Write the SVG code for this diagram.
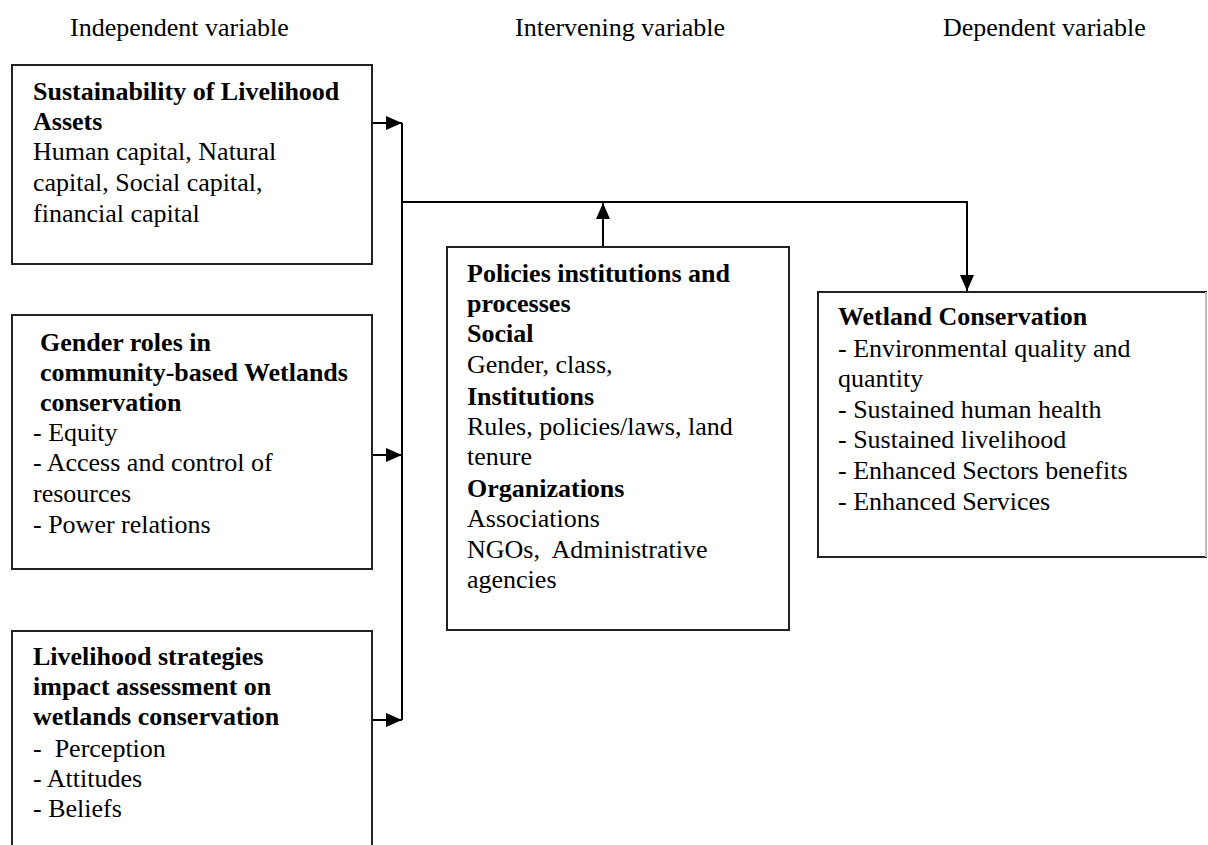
<svg xmlns="http://www.w3.org/2000/svg" width="1208" height="845" viewBox="0 0 1208 845">
<defs>
<style>
text{font-family:"Liberation Serif","Times New Roman",serif;font-size:26px;fill:#000}
.b{font-weight:bold}
.box{fill:#fff;stroke:#222;stroke-width:2}
.ln{fill:none;stroke:#000;stroke-width:2}
</style>
<marker id="ah" markerUnits="userSpaceOnUse" markerWidth="16" markerHeight="14" refX="16" refY="7" orient="auto">
<path d="M0,0 L16,7 L0,14 Z" fill="#000"/>
</marker>
</defs>
<rect width="1208" height="845" fill="#fff"/>
<g id="headers">
<text x="70" y="36">Independent variable</text>
<text x="515" y="36">Intervening variable</text>
<text x="943" y="36">Dependent variable</text>
</g>
<g id="connectors">
<line class="ln" x1="372" y1="123" x2="402" y2="123" marker-end="url(#ah)"/>
<line class="ln" x1="372" y1="455" x2="402" y2="455" marker-end="url(#ah)"/>
<line class="ln" x1="372" y1="720" x2="402" y2="720" marker-end="url(#ah)"/>
<line class="ln" x1="402" y1="123" x2="402" y2="720"/>
<polyline class="ln" points="402,202 967,202 967,291" marker-end="url(#ah)"/>
<line class="ln" x1="603" y1="247" x2="603" y2="203" marker-end="url(#ah)"/>
</g>
<g id="node-assets">
<rect class="box" x="12" y="65" width="360" height="199"/>
<text x="33" y="100" class="b">Sustainability of Livelihood</text>
<text x="33" y="130" class="b">Assets</text>
<text x="33" y="160">Human capital, Natural</text>
<text x="33" y="191">capital, Social capital,</text>
<text x="33" y="222">financial capital</text>
</g>
<g id="node-gender">
<rect class="box" x="12" y="315" width="360" height="254"/>
<text x="40" y="351" class="b">Gender roles in</text>
<text x="40" y="381" class="b">community-based Wetlands</text>
<text x="40" y="411" class="b">conservation</text>
<text x="33" y="441">- Equity</text>
<text x="33" y="471">- Access and control of</text>
<text x="33" y="502">resources</text>
<text x="33" y="533">- Power relations</text>
</g>
<g id="node-strategies">
<rect class="box" x="12" y="631" width="360" height="240"/>
<text x="33" y="665" class="b">Livelihood strategies</text>
<text x="33" y="695" class="b">impact assessment on</text>
<text x="33" y="725" class="b">wetlands conservation</text>
<text x="33" y="757">-&#160; Perception</text>
<text x="33" y="787">- Attitudes</text>
<text x="33" y="817">- Beliefs</text>
</g>
<g id="node-policies">
<rect class="box" x="447" y="247" width="342" height="383"/>
<text x="467" y="282" class="b">Policies institutions and</text>
<text x="467" y="312" class="b">processes</text>
<text x="467" y="342" class="b">Social</text>
<text x="467" y="373">Gender, class,</text>
<text x="467" y="405" class="b">Institutions</text>
<text x="467" y="435">Rules, policies/laws, land</text>
<text x="467" y="465">tenure</text>
<text x="467" y="497" class="b">Organizations</text>
<text x="467" y="527">Associations</text>
<text x="467" y="558">NGOs,&#160; Administrative</text>
<text x="467" y="588">agencies</text>
</g>
<g id="node-wetland">
<rect class="box" x="818" y="292" width="388" height="265"/>
<line x1="1206" y1="292" x2="1206" y2="557" stroke="#bbb" stroke-width="2"/>
<text x="838" y="325" class="b">Wetland Conservation</text>
<text x="838" y="357">- Environmental quality and</text>
<text x="838" y="387">quantity</text>
<text x="838" y="418">- Sustained human health</text>
<text x="838" y="448">- Sustained livelihood</text>
<text x="838" y="479">- Enhanced Sectors benefits</text>
<text x="838" y="510">- Enhanced Services</text>
</g>
</svg>
